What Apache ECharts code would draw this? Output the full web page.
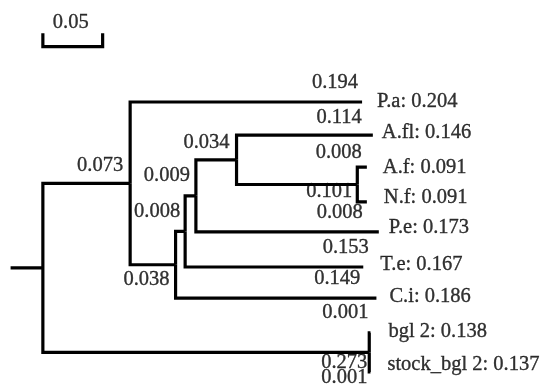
<!DOCTYPE html>
<html><head><meta charset="utf-8">
<script src="https://cdn.jsdelivr.net/npm/echarts@6/dist/echarts.min.js"></script>
<style>html,body{margin:0;padding:0;background:#fff}#c{width:546px;height:391px}</style>
</head><body><div id="c"></div>
<script>
// ---- Data ----
const nodeNames     = ['root','A','P.a','B','C','D','E','A.fl','F','A.f','N.f','P.e','T.e','C.i','G','bgl 2','stock_bgl 2'];
const nodeParents   = [null,'root','A','A','B','C','D','E','E','F','F','D','C','B','root','G','G'];
const branchLengths = [0,0.073,0.194,0.038,0.008,0.009,0.034,0.114,0.101,0.008,0.008,0.153,0.149,0.168,0.273,0.001,0.001];
const leafNames  = ['P.a','A.fl','A.f','N.f','P.e','T.e','C.i','bgl 2','stock_bgl 2'];
const leafRows   = [0,0.98,1.93,2.96,3.85,4.89,5.81,6.84,8];
const leafValues = [0.204,0.146,0.091,0.091,0.173,0.167,0.186,0.138,0.137];
const branchLabelText = ['0.194','0.114','0.008','0.073','0.034','0.009','0.008','0.038','0.101','0.008','0.153','0.149','0.001','0.273','0.001'];
const branchLabelNode = ['P.a','A.fl','A.f','A','E','D','C','B','F','N.f','P.e','T.e','bgl 2','G','stock_bgl 2'];
const scaleBarLength = 0.05;
const scaleBarLabel = '0.05';
const rootStub = 0.027;

// ---- Layout (label placement, px) ----
const branchLabelOffsets = [[-4,-19],[-11,-17],[-5,-15],[-7,-18],[-7,-17],[-6,-20],[-5,-20],[-6,15],[-5,7],[-4,11],[-10,16],[-3,12],[-2,-20],[-2,10],[-3,6]];
const leafLabelOffsets = [[15,0],[9,-2],[16,0],[17,-4],[10,-4],[17,-2],[13,-1],[18,-1],[17,-7]];
const scaleBarRow = -1.64, scaleTickRow = -2.04;

// ---- Build tree geometry ----
const idx = {}; nodeNames.forEach((n,i)=>idx[n]=i);
const depth = new Array(nodeNames.length).fill(0);
nodeNames.forEach((n,i)=>{ if(nodeParents[i]!==null) depth[i]=depth[idx[nodeParents[i]]]+branchLengths[i]; });
const row = new Array(nodeNames.length).fill(null);
leafNames.forEach((n,i)=>row[idx[n]]=leafRows[i]);
for(let i=nodeNames.length-1;i>=0;i--){
  if(row[i]!==null) continue;
  const ch = nodeNames.map((n,j)=>j).filter(j=>nodeParents[j]===nodeNames[i]).map(j=>row[j]);
  row[i]=(Math.min(...ch)+Math.max(...ch))/2;
}
const edges = [];
nodeNames.forEach((n,i)=>{
  if(nodeParents[i]===null){ edges.push({coords:[[-rootStub,row[i]],[0,row[i]]]}); return; }
  const p=idx[nodeParents[i]];
  edges.push({coords:[[depth[p],row[p]],[depth[p],row[i]],[depth[i],row[i]]]});
});
edges.push({coords:[[0,scaleTickRow],[0,scaleBarRow],[scaleBarLength,scaleBarRow],[scaleBarLength,scaleTickRow]]});

const font = {fontFamily:'Liberation Serif', fontSize:20.5, color:'#000', textBorderColor:'#000', textBorderWidth:0.35};
const branchLabelData = branchLabelText.map((t,k)=>{
  const i=idx[branchLabelNode[k]];
  return {value:[depth[i],row[i]], name:t, label:{offset:branchLabelOffsets[k]}};
});
const leafLabelData = leafNames.map((n,k)=>{
  const i=idx[n];
  return {value:[depth[i],row[i]], name:n+': '+leafValues[k].toFixed(3), label:{offset:leafLabelOffsets[k]}};
});

const chart = echarts.init(document.getElementById('c'));
chart.setOption({
  animation:false,
  backgroundColor:'#fff',
  grid:{left:7,right:1,top:0.75,bottom:2.15},
  xAxis:{type:'value',min:-0.03,max:0.42,show:false},
  yAxis:{type:'value',min:-3,max:8.5,inverse:true,show:false},
  series:[
    {type:'lines',coordinateSystem:'cartesian2d',polyline:true,silent:true,
     lineStyle:{color:'#000',width:3.2,opacity:1,join:'miter'},data:edges},
    {type:'scatter',symbolSize:0,silent:true,data:branchLabelData,
     label:Object.assign({show:true,position:'left',distance:0,formatter:'{b}'},font)},
    {type:'scatter',symbolSize:0,silent:true,data:leafLabelData,
     label:Object.assign({show:true,position:'right',distance:0,formatter:'{b}'},font)},
    {type:'scatter',symbolSize:0,silent:true,data:[{value:[scaleBarLength/2,scaleTickRow],name:scaleBarLabel}],
     label:Object.assign({show:true,position:'top',distance:0,offset:[-2,0],formatter:'{b}'},font)}
  ]
});
</script></body></html>
